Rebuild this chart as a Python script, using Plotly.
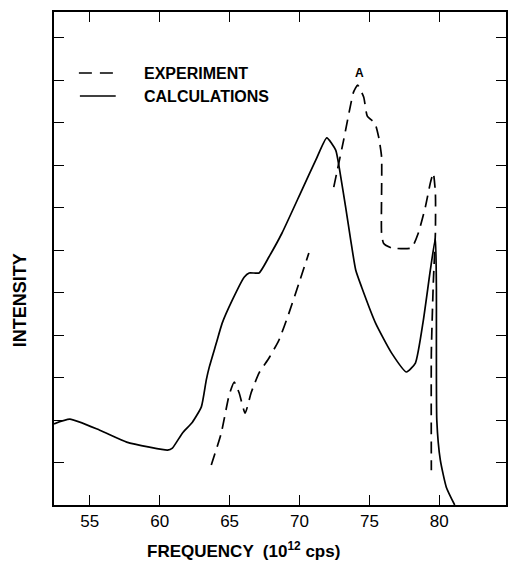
import plotly.graph_objects as go

# Calculations (solid)
calc_x = [52.44, 53.58, 55.71, 57.64, 59.27, 60.56, 60.91, 61.62, 62.34, 62.98, 63.33,
          63.55, 64.05, 64.47, 65.19, 66.04, 66.40, 67.11, 67.82, 68.75, 70.17, 71.17,
          71.95, 72.59, 72.95, 73.30, 73.66, 74.02, 74.44, 75.44, 76.58, 77.65, 78.29,
          78.86, 79.36, 79.72, 79.79, 79.82, 80.07, 80.50, 81.10]
calc_y = [1.91, 2.02, 1.76, 1.48, 1.36, 1.29, 1.34, 1.69, 1.95, 2.31, 2.94,
          3.25, 3.81, 4.28, 4.82, 5.36, 5.46, 5.46, 5.84, 6.40, 7.41, 8.12,
          8.64, 8.35, 7.72, 7.01, 6.24, 5.53, 5.13, 4.28, 3.58, 3.13, 3.34,
          4.35, 5.53, 6.28, 5.13, 2.00, 1.06, 0.42, 0.00]

# Experiment (dashed), None = break in the trace
exp_x = [63.69, 64.40, 64.97, 65.33, 65.68, 66.11, 66.54, 67.11, 67.82, 68.53, 69.25,
         69.96, 70.67, None, 72.45, 73.16, 73.87, 74.16, 74.59, 74.85, 75.40, 75.66,
         75.87, 75.87, 76.01, 76.58, 78.01, 78.50, 79.00, 79.36, 79.57, 79.72, 79.72,
         79.57, 79.43, 79.43]
exp_y = [0.94, 1.69, 2.59, 2.89, 2.64, 2.16, 2.64, 3.11, 3.46, 3.88, 4.52,
         5.22, 5.93, None, 7.48, 8.59, 9.72, 9.88, 9.60, 9.15, 8.98, 8.66,
         8.19, 6.40, 6.16, 6.05, 6.05, 6.40, 7.01, 7.58, 7.81, 7.34, 6.40,
         5.22, 3.58, 0.82]

x_ticks = [55, 60, 65, 70, 75, 80]
y_ticks = [1, 2, 3, 4, 5, 6, 7, 8, 9, 10, 11]

series_names = ["EXPERIMENT", "CALCULATIONS"]
x_title = "FREQUENCY  (10<sup>12</sup> cps)"
y_title = "INTENSITY"

FONT = "Liberation Sans"
W, H = 513, 562
L, R, T, B = 54, 5, 12, 57
PW, PH = W - L - R, H - T - B


def px(x):
    return (x - L) / PW


def py(y):
    return (H - B - y) / PH


fig = go.Figure()
fig.add_trace(go.Scatter(x=calc_x, y=calc_y, mode="lines", name=series_names[1],
                         line=dict(color="black", width=1.7, shape="spline", smoothing=0.5),
                         showlegend=False))
fig.add_trace(go.Scatter(x=exp_x, y=exp_y, mode="lines", name=series_names[0],
                         line=dict(color="black", width=1.7, dash="12px,7px",
                                   shape="spline", smoothing=0.5),
                         connectgaps=False, showlegend=False))

# legend drawn manually to match the original's layout
fig.add_shape(type="line", xref="paper", yref="paper", x0=px(79), x1=px(117),
              y0=py(73), y1=py(73), line=dict(color="black", width=1.7, dash="13px,8px"))
fig.add_shape(type="line", xref="paper", yref="paper", x0=px(80), x1=px(116),
              y0=py(96), y1=py(96), line=dict(color="black", width=1.7))
for name, yy in zip(series_names, [73, 96]):
    fig.add_annotation(xref="paper", yref="paper", x=px(142), y=py(yy),
                       text=name, showarrow=False, xanchor="left", yanchor="middle",
                       font=dict(family=FONT, size=16, color="black", weight="bold"))
fig.add_annotation(x=74.30, y=10.16, text="A", showarrow=False,
                   font=dict(family=FONT, size=12, color="black", weight="bold"))

# axis titles placed like the original
fig.add_annotation(xref="paper", yref="paper", x=px(145), y=py(550), text=x_title,
                   showarrow=False, xanchor="left", yanchor="middle",
                   font=dict(family=FONT, size=17, color="black", weight="bold"))
fig.add_annotation(xref="paper", yref="paper", x=px(20), y=py(300), text=y_title,
                   showarrow=False, xanchor="center", yanchor="middle", textangle=-90,
                   font=dict(family=FONT, size=18, color="black", weight="bold"))

axis_common = dict(showgrid=False, zeroline=False, showline=True, linecolor="black",
                   linewidth=1.5, mirror="ticks", ticks="inside", ticklen=10,
                   tickcolor="black", tickwidth=1.3)

fig.update_xaxes(range=[52.44, 84.77], tickvals=x_ticks, ticktext=[str(v) for v in x_ticks],
                 tickfont=dict(family=FONT, size=17, color="black"),
                 **axis_common)
fig.update_yaxes(range=[0, 11.6], tickvals=y_ticks, showticklabels=False,
                 **axis_common)

fig.update_layout(width=W, height=H, margin=dict(l=L, r=R, t=T, b=B),
                  plot_bgcolor="white", paper_bgcolor="white", showlegend=False)

fig.write_html("out.html")
